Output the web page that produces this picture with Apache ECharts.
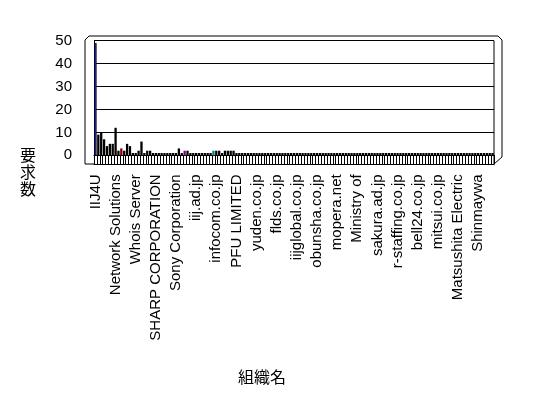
<!DOCTYPE html>
<html><head><meta charset="utf-8">
<script src="https://cdn.jsdelivr.net/npm/echarts@6/dist/echarts.min.js"></script>
<style>html,body{margin:0;padding:0;background:#fff}#c{width:548px;height:398px}</style>
</head><body><div id="c"></div>
<script>
// visible tick labels (every 7th category)
const shownLabels = ["IIJ4U","Network Solutions","Whois Server","SHARP CORPORATION","Sony Corporation","iij.ad.jp","infocom.co.jp","PFU LIMITED","yuden.co.jp","flds.co.jp","iijglobal.co.jp","obunsha.co.jp","mopera.net","Ministry of","sakura.ad.jp","r-staffing.co.jp","bell24.co.jp","mitsui.co.jp","Matsushita Electric","Shinmaywa"];
const categoryCount = 139;
// request counts per organisation
const requests = [
 49,9,10,7,4,5,5,12,2,3,
 2,5,4,1,1,2,6,1,2,2,
 1,1,1,1,1,1,1,1,1,3,
 1,2,2,1,1,1,1,1,1,1,
 1,2,2,2,1,2,2,2,2,1,
 1,1,1,1,1,1,1,1,1,1,
 1,1,1,1,1,1,1,1,1,1,
 1,1,1,1,1,1,1,1,1,1,
 1,1,1,1,1,1,1,1,1,1,
 1,1,1,1,1,1,1,1,1,1,
 1,1,1,1,1,1,1,1,1,1,
 1,1,1,1,1,1,1,1,1,1,
 1,1,1,1,1,1,1,1,1,1,
 1,1,1,1,1,1,1,1,1
];
const yTicks = [0,10,20,30,40,50];
const yTitle = '要求数';
const xTitle = '組織名';
const highlight = {0:'#2424a8', 9:'#800000', 31:'#800080', 41:'#008080'};

const categories = [];
for (let i = 0; i < categoryCount; i++) categories.push(i % 7 === 0 ? (shownLabels[i/7] || '') : '');

const chart = echarts.init(document.getElementById('c'), null, {renderer:'canvas'});
const L = 94, R = 494, T = 40.7, B = 155.3;
const yTitleChars = yTitle.split('').map((ch, k) => ({
  type:'text', x:20, y:147 + k*17,
  style:{text:ch, font:'16px "Noto Sans CJK JP"', fill:'#000', textVerticalAlign:'top'}
}));
chart.setOption({
  animation:false,
  backgroundColor:'#fff',
  title:[
    {text:xTitle, left:233, top:364, textStyle:{fontFamily:'"Noto Sans CJK JP"', fontSize:16, fontWeight:'normal', color:'#000'}}
  ],
  grid:{left:L, right:548-R, top:T, bottom:398-B},
  xAxis:[{
    type:'category', data:categories, boundaryGap:true,
    axisLine:{show:true, lineStyle:{color:'#000', width:1}},
    axisTick:{show:true, interval:0, length:9, lineStyle:{color:'#000'}},
    axisLabel:{interval:6, rotate:90, margin:19, fontSize:15, color:'#000', fontFamily:'"Liberation Sans", Arial'},
    splitLine:{show:false}
  },{
    type:'category', data:categories, position:'bottom', offset:9,
    axisLine:{show:true, lineStyle:{color:'#000'}}, axisTick:{show:false}, axisLabel:{show:false}
  }],
  yAxis:{
    type:'value', min:0, max:50, interval:10,
    axisLine:{show:true, lineStyle:{color:'#000'}},
    axisTick:{show:false},
    axisLabel:{margin:22, fontSize:15, color:'#000', fontFamily:'"Liberation Sans", Arial',
      formatter:v => yTicks.includes(v) ? String(v) : ''},
    splitLine:{show:true, lineStyle:{color:'#000', width:1}}
  },
  series:[{
    type:'bar', xAxisIndex:0,
    data:requests.map((v,i)=>({value:v, itemStyle:{color: highlight[i] || '#000', borderColor:'#000', borderWidth: i===0?0.6:0}})),
    barCategoryGap:'20%'
  }],
  graphic:yTitleChars.concat([
    {type:'polyline', shape:{points:[[85,164],[85,40],[89,36],[498,36],[502,40],[502,157],[494,164]]}, style:{stroke:'#000', fill:null, lineWidth:1}, silent:true},
    {type:'line', shape:{x1:85,y1:164,x2:94,y2:164}, style:{stroke:'#000', lineWidth:1}},
    {type:'line', shape:{x1:494,y1:T,x2:494,y2:164}, style:{stroke:'#000', lineWidth:1}}
  ])
});
</script></body></html>
